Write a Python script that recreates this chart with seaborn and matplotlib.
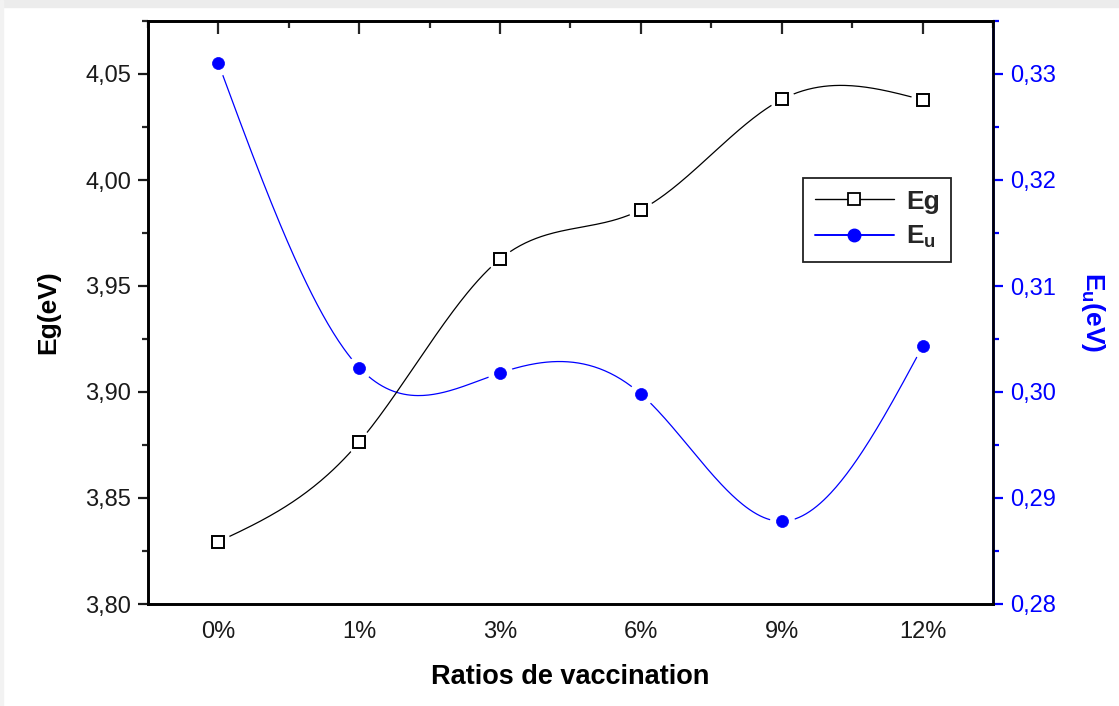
import numpy as np
import pandas as pd
import matplotlib
matplotlib.use('Agg')
import matplotlib.pyplot as plt
import seaborn as sns
from matplotlib.ticker import FuncFormatter, MultipleLocator, FixedLocator
from matplotlib.lines import Line2D
from matplotlib.patches import Rectangle

# ---- data ----
categories = ['0%', '1%', '3%', '6%', '9%', '12%']
eg_values = [3.8294, 3.8764, 3.9627, 3.9860, 4.0380, 4.0378]
eu_values = [0.3310, 0.3023, 0.3018, 0.2998, 0.2878, 0.3043]

x_pos = np.arange(len(categories), dtype=float)


def natural_spline(x, y, n=400):
    x = np.asarray(x, float)
    y = np.asarray(y, float)
    k = len(x)
    h = np.diff(x)
    A = np.zeros((k, k))
    b = np.zeros(k)
    A[0, 0] = 1
    A[-1, -1] = 1
    for i in range(1, k - 1):
        A[i, i - 1] = h[i - 1]
        A[i, i] = 2 * (h[i - 1] + h[i])
        A[i, i + 1] = h[i]
        b[i] = 6 * ((y[i + 1] - y[i]) / h[i] - (y[i] - y[i - 1]) / h[i - 1])
    M = np.linalg.solve(A, b)
    xs = np.linspace(x[0], x[-1], n)
    idx = np.clip(np.searchsorted(x, xs) - 1, 0, k - 2)
    x0, x1 = x[idx], x[idx + 1]
    hh = x1 - x0
    t0 = x1 - xs
    t1 = xs - x0
    ys = (M[idx] * t0 ** 3 / (6 * hh) + M[idx + 1] * t1 ** 3 / (6 * hh)
          + (y[idx] / hh - M[idx] * hh / 6) * t0
          + (y[idx + 1] / hh - M[idx + 1] * hh / 6) * t1)
    return xs, ys


sns.set_theme(style='white')
plt.rcParams['font.family'] = ['Liberation Sans', 'DejaVu Sans']
plt.rcParams['mathtext.fontset'] = 'custom'
plt.rcParams['mathtext.rm'] = 'Liberation Sans'
plt.rcParams['mathtext.bf'] = 'Liberation Sans:bold'

BLUE = '#0000ff'
fig = plt.figure(figsize=(11.19, 7.06), dpi=100, facecolor='white')
fig.patches.append(Rectangle((0, 1 - 7 / 706), 1, 7 / 706, transform=fig.transFigure,
                             color='#ececec', zorder=-10))
fig.patches.append(Rectangle((0, 0), 3 / 1119, 1, transform=fig.transFigure,
                             color='#f2f2f2', zorder=-10))
ax = fig.add_axes([148 / 1119, 1 - 604 / 706, (993 - 148) / 1119, (604 - 21) / 706])
ax2 = ax.twinx()

df = pd.DataFrame({'x': x_pos, 'eg': eg_values, 'eu': eu_values})

# Eg curve (smooth spline through the points, with gaps round the markers)
xs, ys = natural_spline(x_pos, eg_values)
ax.plot(xs, ys, color='black', lw=0.9, zorder=2)
ax.plot(df['x'], df['eg'], ls='none', marker='o', ms=18, mfc='white', mec='none', zorder=3)
ax.plot(df['x'], df['eg'], ls='none', marker='s', ms=8, mfc='white', mec='black',
        mew=1.4, zorder=4)

# Eu curve
xs2, ys2 = natural_spline(x_pos, eu_values)
ax2.plot(xs2, ys2, color=BLUE, lw=0.9, zorder=2)
ax2.plot(df['x'], df['eu'], ls='none', marker='o', ms=18, mfc='white', mec='none', zorder=3)
sns.scatterplot(data=df, x='x', y='eu', ax=ax2, color=BLUE, s=75, edgecolor=BLUE,
                linewidth=0.5, zorder=4)

ax.set_xlim(-0.5, 5.5)
ax.set_ylim(3.80, 4.075)
ax2.set_ylim(0.28, 0.335)

comma = FuncFormatter(lambda v, p: f'{v:.2f}'.replace('.', ','))
ax.yaxis.set_major_locator(MultipleLocator(0.05))
ax.yaxis.set_minor_locator(MultipleLocator(0.025))
ax.yaxis.set_major_formatter(comma)
ax2.yaxis.set_major_locator(MultipleLocator(0.01))
ax2.yaxis.set_minor_locator(MultipleLocator(0.005))
ax2.yaxis.set_major_formatter(comma)
ax.set_xticks(x_pos)
ax.set_xticklabels(categories)
ax.xaxis.set_minor_locator(FixedLocator(np.arange(-0.5, 5.6, 1.0)))

for a in (ax, ax2):
    for s in a.spines.values():
        s.set_linewidth(1.9)
        s.set_color('black')
ax2.spines['right'].set_color(BLUE)

ax.tick_params(axis='both', which='major', direction='out', length=7, width=1.6,
               labelsize=17, colors='#1a1a1a', pad=5)
ax.tick_params(axis='both', which='minor', direction='out', length=4, width=1.6)
ax.tick_params(axis='x', which='both', top=False)
ax2.tick_params(axis='y', which='major', direction='out', length=7, width=1.6,
                labelsize=17, colors=BLUE, pad=5)
ax2.tick_params(axis='y', which='minor', direction='out', length=4, width=1.6, colors=BLUE)

# top ticks pointing inward
top = ax.secondary_xaxis('top')
top.set_xticks(x_pos)
top.xaxis.set_minor_locator(FixedLocator(np.arange(-0.5, 5.6, 1.0)))
top.tick_params(which='major', direction='in', length=9, width=1.6, labeltop=False)
top.tick_params(which='minor', direction='in', length=5, width=1.6)
top.spines['top'].set_linewidth(1.9)

ax.set_xlabel('Ratios de vaccination', fontsize=19.5, fontweight='bold', labelpad=15,
              color='black')
ax.set_ylabel('Eg(eV)', fontsize=19, fontweight='bold', labelpad=18, color='black')
ax2.set_ylabel(r'$\mathbf{E_u(eV)}$', fontsize=19, color=BLUE, rotation=270,
               labelpad=37)

handles = [
    Line2D([], [], color='black', lw=1.0, marker='s', ms=9, mfc='white', mec='black', mew=1.3),
    Line2D([], [], color=BLUE, lw=1.4, marker='o', ms=9, mfc=BLUE, mec=BLUE),
]
leg = ax.legend(handles, ['Eg', r'$\mathbf{E_u}$'], loc='upper left',
                bbox_to_anchor=(0.775, 0.731), borderaxespad=0, frameon=True,
                fancybox=False, edgecolor='#222222', framealpha=1,
                prop={'size': 19, 'weight': 'bold'}, handlelength=3.0,
                handletextpad=0.45, borderpad=0.45, labelspacing=0.4)
leg.get_frame().set_linewidth(1.3)
ax.set_zorder(ax2.get_zorder() + 1)
ax.patch.set_visible(False)

fig.savefig('out.png', dpi=100, facecolor='white')
